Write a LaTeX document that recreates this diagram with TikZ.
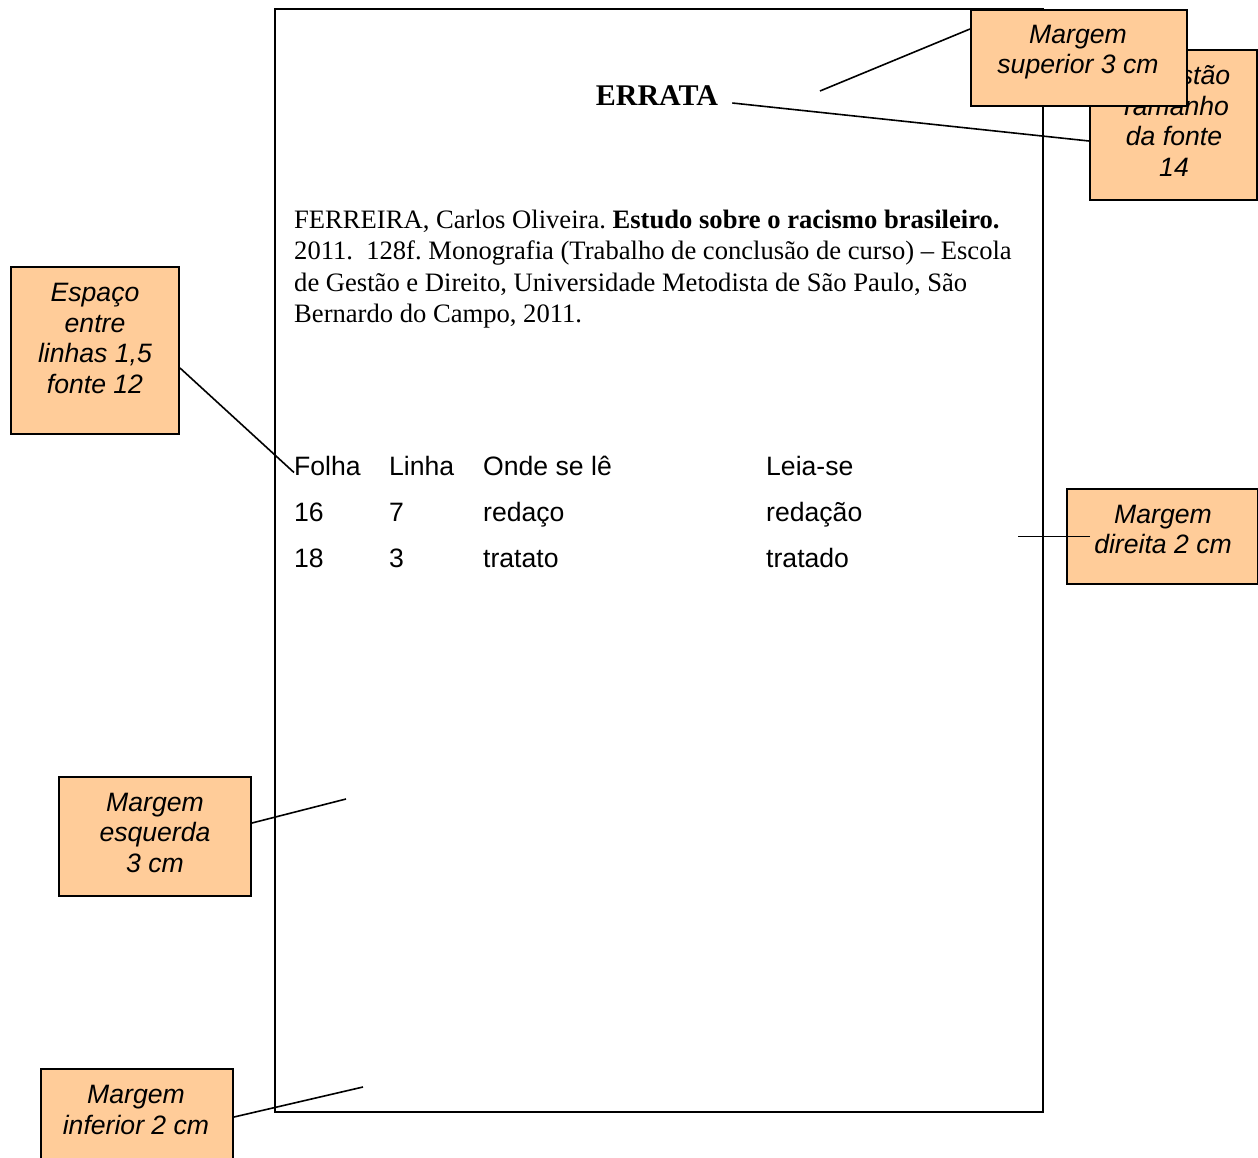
\documentclass[tikz,border=0pt]{standalone}
\usepackage{fontspec}
\setmainfont{Liberation Serif}
\newfontfamily\arialf{Liberation Sans}
\usetikzlibrary{calc}
\definecolor{peach}{HTML}{FFCC99}
\frenchspacing
\begin{document}
\begin{tikzpicture}[x=1pt,y=-1pt,
  note/.style={draw=black, line width=2pt, fill=peach, inner sep=0pt, anchor=north west},
  notetext/.style={inner sep=0pt, align=center, font=\arialf\itshape\fontsize{26.6}{30.5}\selectfont},
  body/.style={inner sep=0pt, anchor=base west, font=\fontsize{26.6}{31}\selectfont},
  cell/.style={inner sep=0pt, anchor=base west, font=\arialf\fontsize{26.6}{31}\selectfont},
  leader/.style={line width=1.6pt}]
\useasboundingbox (0,0) rectangle (1258,1158);
\clip (0,0) rectangle (1258,1158);
% page
\node[draw, line width=2pt, minimum width=768pt, minimum height=1103pt, anchor=north west, inner sep=0pt] (page) at (274,8) {};
% page content
\node[inner sep=0pt, anchor=base, font=\bfseries\fontsize{30}{34}\selectfont] (errata) at (657,106) {ERRATA};
\node[body] (ref1) at (294,229) {FERREIRA, Carlos Oliveira. \textbf{Estudo sobre o racismo brasileiro.}};
\node[body] (ref2) at (294,260) {2011.\ \ 128f. Monografia (Trabalho de conclusão de curso) – Escola};
\node[body] (ref3) at (294,291) {de Gestão e Direito, Universidade Metodista de São Paulo, São};
\node[body] (ref4) at (294,322) {Bernardo do Campo, 2011.};
% table
\node[cell] (h1) at (294,475.5) {Folha};
\node[cell] (h2) at (389,475.5) {Linha};
\node[cell] (h3) at (483,475.5) {Onde se lê};
\node[cell] (h4) at (766,475.5) {Leia-se};
\node[cell] (a1) at (294,521.5) {16};
\node[cell] (a2) at (389,521.5) {7};
\node[cell] (a3) at (483,521.5) {redaço};
\node[cell] (a4) at (766,521.5) {redação};
\node[cell] (b1) at (294,567.5) {18};
\node[cell] (b2) at (389,567.5) {3};
\node[cell] (b3) at (483,567.5) {tratato};
\node[cell] (b4) at (766,567.5) {tratado};
% notes
\node[note, minimum width=167pt, minimum height=150pt] (tam) at (1089,49) {};
\node[notetext] (tamt) at (1174,121) {Sugestão\\Tamanho\\da fonte\\14};
\node[note, minimum width=216pt, minimum height=96pt] (sup) at (970,9) {};
\node[notetext] (supt) at (1078,52) {Margem\\superior 3 cm};
\node[note, minimum width=168pt, minimum height=167pt] (esp) at (10,266) {};
\node[notetext] (espt) at (95,338.5) {Espaço\\entre\\linhas 1,5\\fonte 12};
\node[note, minimum width=191pt, minimum height=95pt] (dir) at (1066,488) {};
\node[notetext] (dirt) at (1163,529.5) {Margem\\direita 2 cm};
\node[note, minimum width=192pt, minimum height=119pt] (esq) at (58,776) {};
\node[notetext] (esqt) at (155,832.5) {Margem\\esquerda\\3 cm};
\node[note, minimum width=192pt, minimum height=120pt] (inf) at (40,1068) {};
\node[notetext] (inft) at (136,1110) {Margem\\inferior 2 cm};
% leaders
\coordinate (supEnd) at (820,91);
\coordinate (esqEnd) at (346,799);
\coordinate (infEnd) at (363,1087);
\draw[leader] ($(sup.north west)+(0,20)$) -- (supEnd);
\draw[leader] ($(errata.base east)+(14,-3)$) -- ($(tam.north west)+(0,92)$);
\draw[leader] ($(esp.north east)+(0,102)$) -- ($(h1.base west)+(0,-3)$);
\draw[leader] ($(dir.west)+(24,0)$) -- ($(dir.west)+(-48,0)$);
\draw[leader] ($(esq.north east)+(0,47)$) -- (esqEnd);
\draw[leader] ($(inf.north east)+(0,49)$) -- (infEnd);
\end{tikzpicture}
\end{document}
